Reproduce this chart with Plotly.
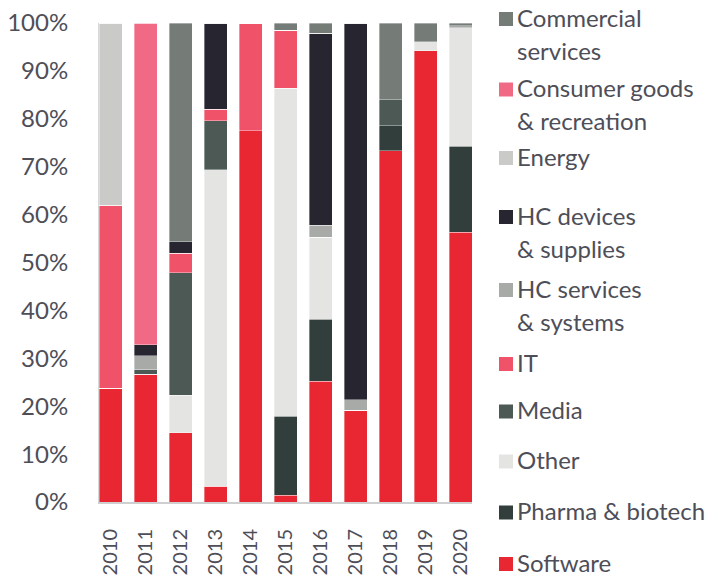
import plotly.graph_objects as go

years = ["2010", "2011", "2012", "2013", "2014", "2015", "2016", "2017", "2018", "2019", "2020"]

# stacked bottom -> top
software = [23.7, 26.7, 14.5, 3.3, 77.5, 1.4, 25.2, 19.2, 73.3, 94.2, 56.3]
pharma = [0, 0, 0, 0, 0, 16.5, 13.0, 0, 5.3, 0, 18.0]
other = [0, 0, 7.8, 66.1, 0, 68.5, 17.1, 0, 0, 1.9, 24.7]
media = [0, 0.9, 25.6, 10.2, 0, 0, 0, 0, 5.4, 0, 0]
it = [38.3, 0, 4.0, 2.4, 22.5, 12.1, 0, 0, 0, 0, 0]
hc_services = [0, 2.9, 0, 0, 0, 0, 2.5, 2.1, 0, 0, 0.4]
hc_devices = [0, 2.3, 2.4, 18.0, 0, 0, 40.1, 78.7, 0, 0, 0]
energy = [38.0, 0, 0, 0, 0, 0, 0, 0, 0, 0, 0]
consumer = [0, 67.2, 0, 0, 0, 0, 0, 0, 0, 0, 0]
commercial = [0, 0, 45.7, 0, 0, 1.5, 2.1, 0, 16.0, 3.9, 0.6]

series_names = ["Software", "Pharma & biotech", "Other", "Media", "IT",
                "HC services & systems", "HC devices & supplies", "Energy",
                "Consumer goods & recreation", "Commercial services"]
series_values = [software, pharma, other, media, it, hc_services, hc_devices,
                 energy, consumer, commercial]
series_colors = ["#e82733", "#323e3b", "#e4e4e3", "#4c5955", "#f0526a",
                 "#a8aaa8", "#272630", "#cacac8", "#f06a86", "#757b77"]

# legend (top -> bottom), lines of each label
legend_lines = [["Commercial", "services"], ["Consumer goods", "& recreation"], ["Energy"],
                ["HC devices", "& supplies"], ["HC services", "& systems"], ["IT"],
                ["Media"], ["Other"], ["Pharma & biotech"], ["Software"]]
legend_colors = ["#757b77", "#f06a86", "#cacac8", "#272630", "#a8aaa8", "#f0526a",
                 "#4c5955", "#e4e4e3", "#323e3b", "#e82733"]
legend_px_y = [19, 89.5, 158, 217, 290, 364, 411.5, 461.5, 512.5, 564]

TEXT = "#4e4e58"
FONT = "Lato"

fig = go.Figure()
for name, vals, col in zip(series_names, series_values, series_colors):
    fig.add_trace(go.Bar(x=years, y=vals, name=name, marker_color=col,
                         marker_line=dict(color="rgba(255,255,255,0.45)", width=0.8),
                         showlegend=False))

# plot area in pixels
L, R, T, B = 99, 472, 23, 502
W, H = 714, 582


def px_to_paper(px, py):
    return (px - L) / (R - L), (B - py) / (B - T)


annotations = []
shapes = []
line_gap = 33
for lines, col, cy in zip(legend_lines, legend_colors, legend_px_y):
    x0, y0 = px_to_paper(499, cy - 7)
    x1, y1 = px_to_paper(513, cy + 7)
    shapes.append(dict(type="rect", xref="paper", yref="paper", x0=x0, x1=x1,
                       y0=y1, y1=y0, fillcolor=col, line=dict(width=0), layer="above"))
    for i, ln in enumerate(lines):
        tx, ty = px_to_paper(515, cy - 2 + i * line_gap)
        annotations.append(dict(text=ln, xref="paper", yref="paper", x=tx, y=ty,
                                xanchor="left", yanchor="middle", showarrow=False,
                                font=dict(family=FONT, size=24, color=TEXT)))

bw = 23 / 35
fig.update_layout(
    barmode="stack",
    bargap=1 - bw,
    width=W, height=H,
    margin=dict(l=L, r=W - R, t=T, b=H - B, pad=0, autoexpand=False),
    plot_bgcolor="white", paper_bgcolor="white",
    font=dict(family=FONT, color=TEXT),
    xaxis=dict(type="category", range=[-bw / 2, len(years) - 1 + bw / 2],
               tickangle=-90, tickfont=dict(size=20, color=TEXT),
               showline=True, linecolor="#cfcfcf", linewidth=2,
               ticks="", showgrid=False, ticklabelstandoff=17, automargin=False),
    yaxis=dict(range=[0, 100], dtick=10, ticksuffix="%",
               tickfont=dict(size=24, color=TEXT),
               showline=True, linecolor="#d8d8d8", linewidth=1,
               showgrid=False, zeroline=False, ticks="", ticklabelstandoff=25,
               automargin=False),
    annotations=annotations,
    shapes=shapes,
)

fig.write_html("out.html", config={"displayModeBar": False},
               post_script="document.body.style.margin='0';document.body.style.overflow='hidden';")
